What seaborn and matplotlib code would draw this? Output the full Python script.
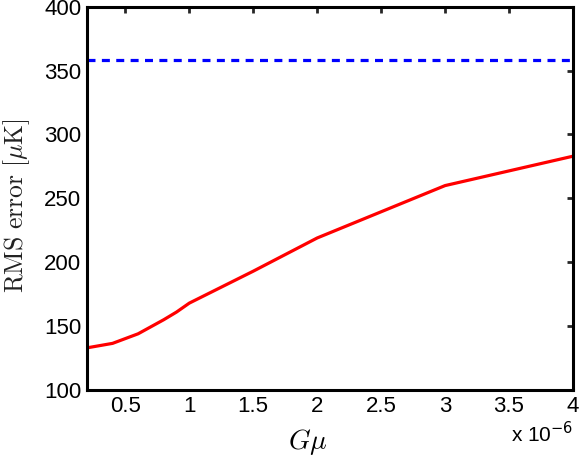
import numpy as np
import pandas as pd
import matplotlib
matplotlib.use("Agg")
import matplotlib.pyplot as plt
import seaborn as sns

# G mu in units of 1e-6
gmu = [0.2, 0.4, 0.6, 0.8, 0.9, 1.0, 1.5, 2.0, 3.0, 4.0]
rms_err = [133, 136.5, 144, 155, 161, 168, 193, 219, 260, 283]
baseline = 358.5

sns.set_style("white")
plt.rcParams["font.family"] = ["Liberation Sans", "DejaVu Sans"]
plt.rcParams["mathtext.fontset"] = "cm"

df = pd.DataFrame({"gmu": gmu, "rms": rms_err})

fig = plt.figure(figsize=(5.81, 4.57), dpi=100)
ax = fig.add_axes([0.1497, 0.1466, 0.8365, 0.8387])

sns.lineplot(data=df, x="gmu", y="rms", color="#ff0000", lw=2.3, ax=ax)
ax.axhline(baseline, color="#0000ff", ls=(0, (2.5, 2)), lw=2.3)

ax.set_xlim(0.2, 4)
ax.set_ylim(100, 400)
ax.set_xticks([0.5, 1, 1.5, 2, 2.5, 3, 3.5, 4])
ax.set_xticklabels(["0.5", "1", "1.5", "2", "2.5", "3", "3.5", "4"])
ax.set_yticks(np.arange(100, 401, 50))

for s in ax.spines.values():
    s.set_linewidth(2.2)
    s.set_color("black")
ax.tick_params(direction="in", length=4, width=2, labelsize=16,
               labelcolor="black", top=True, right=True, pad=4)

ax.set_xlabel(r"$G\mu$", fontsize=20, color="black")
ax.xaxis.set_label_coords(0.455, -0.097)
ax.set_ylabel(r"$\mathrm{RMS\ error\ [\mu K]}$", fontsize=18.5, color="#222222")
ax.yaxis.set_label_coords(-0.113, 0.48)

ax.text(1.0, -0.115, r"x 10$^{\mathsf{-6}}$", transform=ax.transAxes,
        ha="right", va="center", fontsize=15, color="black",
        math_fontfamily="dejavusans")

plt.savefig("out.png", dpi=100, facecolor="w")
